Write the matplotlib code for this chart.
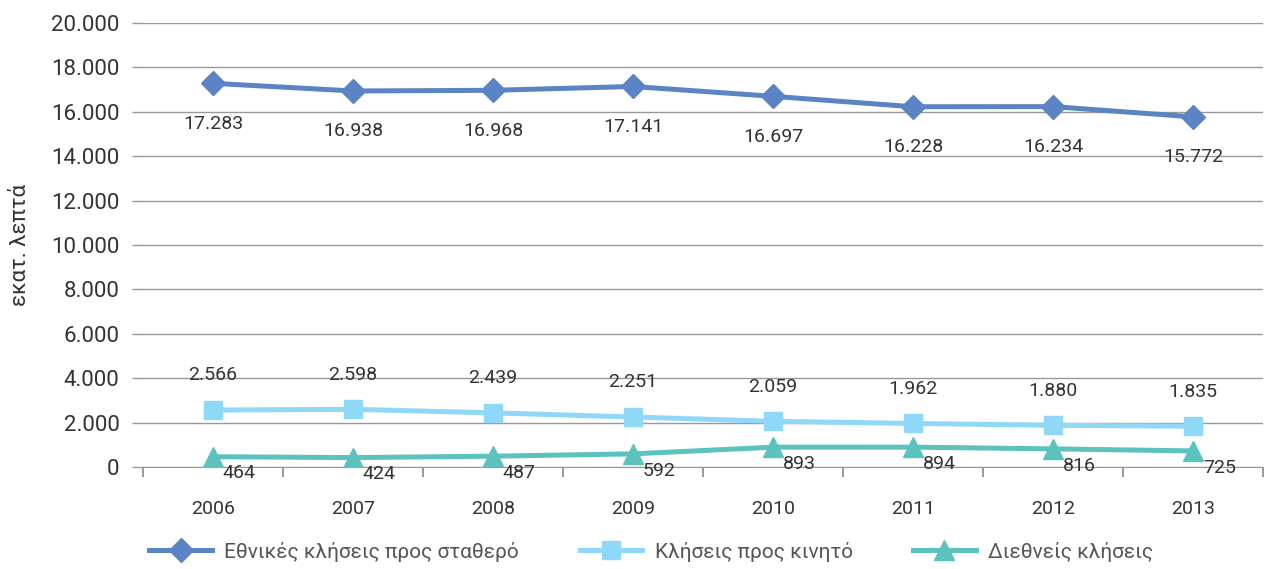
import matplotlib
matplotlib.use("Agg")
import matplotlib.pyplot as plt
import numpy as np

years = ["2006", "2007", "2008", "2009", "2010", "2011", "2012", "2013"]
national = [17283, 16938, 16968, 17141, 16697, 16228, 16234, 15772]
mobile = [2566, 2598, 2439, 2251, 2059, 1962, 1880, 1835]
international = [464, 424, 487, 592, 893, 894, 816, 725]
series_names = ["Εθνικές κλήσεις προς σταθερό", "Κλήσεις προς κινητό", "Διεθνείς κλήσεις"]

def fmt(v):
    return f"{v:,}".replace(",", ".")

plt.rcParams['font.family'] = ['Roboto', 'DejaVu Sans']
fig = plt.figure(figsize=(12.72, 5.69), dpi=100)
ax = fig.add_axes([143/1272, 1-467/569, 1120/1272, 444/569])

x = np.arange(len(years))
c1, c2, c3 = "#5B84C4", "#8FD8F8", "#5BC2BE"
ax.plot(x, national, color=c1, lw=3.6, marker="D", ms=12, label=series_names[0], zorder=3)
ax.plot(x, mobile, color=c2, lw=3.6, marker="s", ms=13, label=series_names[1], zorder=3)
ax.plot(x, international, color=c3, lw=3.6, marker="^", ms=14, label=series_names[2], zorder=3)

lc = "#333333"
for xi, v in zip(x, national):
    ax.annotate(fmt(v), (xi, v), xytext=(0, -29), textcoords="offset points",
                ha="center", va="center", fontsize=14, color=lc)
for xi, v in zip(x, mobile):
    ax.annotate(fmt(v), (xi, v), xytext=(0, 25), textcoords="offset points",
                ha="center", va="center", fontsize=14, color=lc)
for xi, v in zip(x, international):
    ax.annotate(fmt(v), (xi, v), xytext=(19, -12), textcoords="offset points",
                ha="center", va="center", fontsize=14, color=lc)

ax.set_xlim(-0.5, len(years) - 0.5)
ax.set_ylim(0, 20000)
ax.set_yticks(np.arange(0, 20001, 2000))
ax.set_yticklabels([fmt(v) for v in range(0, 20001, 2000)], fontsize=16, color="#333333")
ax.set_xticks(x)
ax.set_xticklabels(years, fontsize=14, color="#333333")
ax.tick_params(axis="x", which="major", length=0, pad=24)
ax.set_xticks(np.arange(-0.5, len(years), 1), minor=True)
ax.tick_params(axis="x", which="minor", length=7, color="#888888", width=1.2, direction="out")
ax.tick_params(axis="y", length=8, color="#999999", width=1, pad=9)
ax.grid(axis="y", color="#999999", lw=1)
ax.set_axisbelow(True)
for s in ["top", "right", "left"]:
    ax.spines[s].set_visible(False)
ax.spines["bottom"].set_color("#999999")
ax.set_ylabel("εκατ. λεπτά", fontsize=16, color="#333333", labelpad=14)

fig.legend(loc="lower center", bbox_to_anchor=(0.512, -0.02), ncol=3, frameon=False,
           fontsize=15, handlelength=3.0, handletextpad=0.6, columnspacing=2.9,
           labelcolor="#555555")
fig.savefig("out.png", dpi=100)
